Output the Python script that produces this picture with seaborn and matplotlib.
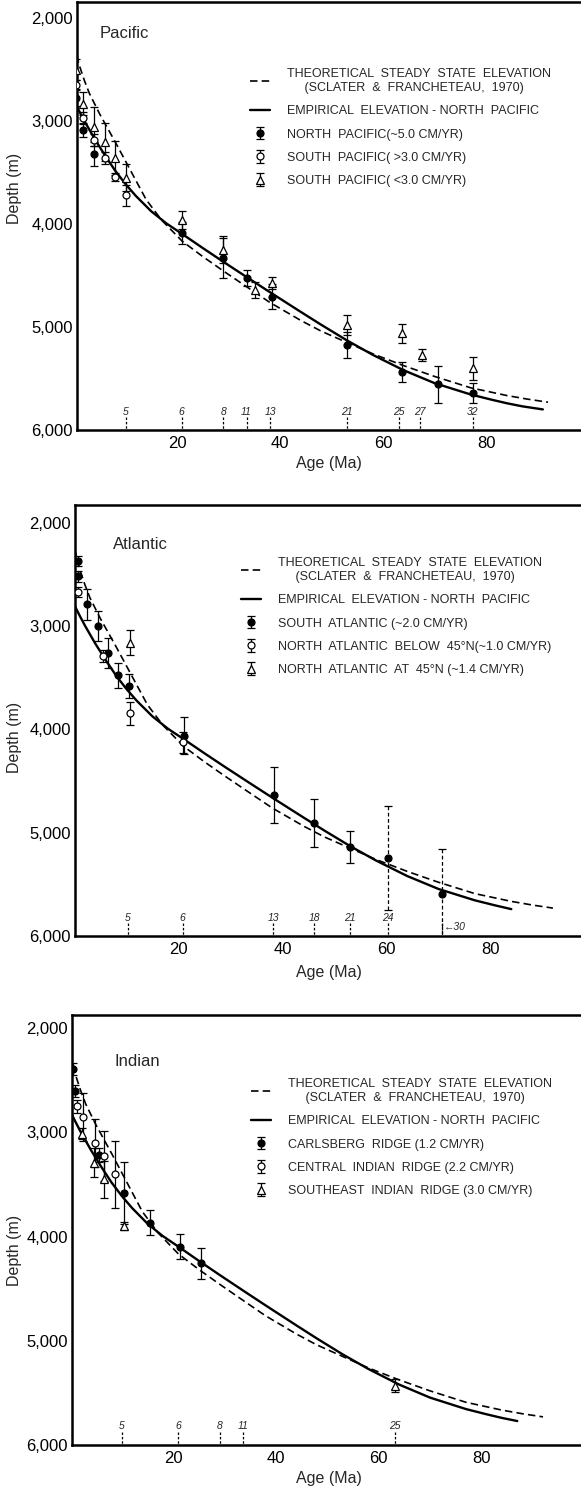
import matplotlib
matplotlib.use("Agg")
import matplotlib.pyplot as plt
from matplotlib.lines import Line2D
from matplotlib.ticker import FuncFormatter
import pandas as pd
import seaborn as sns

W, H = 581, 1488

# model curves shared by all three panels (age Ma, depth m)
theory_age = [0, 1, 2, 3, 5, 8, 11, 14, 17, 21, 25, 29, 34, 38, 44, 48, 53, 58, 64, 70, 77, 84, 88, 92]
theory_depth = [2250, 2450, 2600, 2730, 2930, 3200, 3480, 3760, 3960, 4165, 4315, 4455, 4625, 4760,
                4935, 5040, 5150, 5260, 5375, 5480, 5590, 5665, 5700, 5730]
empirical_age = [0, 1, 2, 4, 6, 8, 10, 12, 15, 18, 21, 25, 29, 34, 38, 44, 48, 53, 58, 64, 70, 77,
                 81, 84, 87, 91]
empirical_depth = [2800, 2900, 2995, 3170, 3330, 3480, 3610, 3725, 3875, 3995, 4095, 4232, 4366, 4530,
                   4660, 4852, 4978, 5130, 5270, 5420, 5545, 5655, 5705, 5740, 5770, 5800]

# Pacific
pac_n_age = [0.5, 1.8, 3.9, 20.9, 28.9, 33.5, 38.4, 53.0, 63.7, 70.6, 77.4]
pac_n_depth = [2770, 3085, 3320, 4087, 4330, 4525, 4705, 5175, 5435, 5555, 5640]
pac_n_err = [80, 70, 115, 110, 195, 80, 120, 130, 100, 180, 100]
pac_sf_age = [0.5, 1.8, 3.9, 6.0, 8.0, 10.1]
pac_sf_depth = [2650, 2970, 3180, 3360, 3540, 3720]
pac_sf_err = [50, 60, 60, 60, 40, 100]
pac_ss_age = [0.5, 1.8, 3.9, 6.0, 8.0, 10.1, 20.9, 28.9, 35.1, 38.4, 53.0, 63.7, 67.5, 77.4]
pac_ss_depth = [2500, 2830, 3055, 3200, 3360, 3550, 3960, 4250, 4640, 4570, 4980, 5060, 5270, 5400]
pac_ss_err = [100, 110, 190, 185, 165, 130, 90, 130, 80, 60, 100, 90, 60, 110]
pac_anom_age = [10.1, 20.9, 29.0, 33.5, 38.1, 53.0, 63.0, 67.2, 77.4]
pac_anom_label = ["5", "6", "8", "11", "13", "21", "25", "27", "32"]

# Atlantic
atl_s_age = [0.6, 0.7, 2.5, 4.5, 6.5, 8.3, 10.4, 21.1, 38.3, 46.0, 52.9]
atl_s_depth = [2370, 2520, 2791, 3000, 3258, 3478, 3580, 4063, 4634, 4905, 5143]
atl_s_err = [50, 50, 150, 145, 145, 120, 113, 180, 270, 235, 155]
atl_s_wide_age = [60.2, 70.6]
atl_s_wide_depth = [5245, 5597]
atl_s_wide_err = [500, 440]
atl_nb_age = [0.7, 5.4, 10.6, 20.8]
atl_nb_depth = [2670, 3290, 3845, 4127]
atl_nb_err = [50, 60, 110, 100]
atl_na_age = [10.6]
atl_na_depth = [3161]
atl_na_err = [120]
atl_anom_age = [10.3, 20.8, 38.2, 46.1, 52.9, 60.2]
atl_anom_label = ["5", "6", "13", "18", "21", "24"]
atl_anom30_age = 70.7

# Indian
ind_c_age = [0.5, 0.9, 5.6, 10.5, 15.5, 21.4, 25.4]
ind_c_depth = [2390, 2600, 3216, 3582, 3865, 4097, 4257]
ind_c_err = [60, 60, 70, 300, 120, 120, 145]
ind_ci_age = [1.2, 2.5, 4.8, 6.5, 8.6]
ind_ci_depth = [2750, 2855, 3097, 3225, 3400]
ind_ci_err = [60, 230, 230, 240, 320]
ind_se_age = [2.2, 4.6, 6.5, 10.5, 63.1]
ind_se_depth = [3010, 3290, 3450, 3900, 5429]
ind_se_err = [50, 140, 180, 40, 60]
ind_anom_age = [10.0, 20.9, 29.1, 33.6, 63.1]
ind_anom_label = ["5", "6", "8", "11", "25"]

THEORY_LABEL = "THEORETICAL  STEADY  STATE  ELEVATION\n     (SCLATER  &  FRANCHETEAU,  1970)"
EMP_LABEL = "EMPIRICAL  ELEVATION - NORTH  PACIFIC"

DASH = (0, (4.5, 2.5))


def add_curves(ax, emp_end, theory_end):
    emp = pd.DataFrame({"age": empirical_age, "depth": empirical_depth})
    theo = pd.DataFrame({"age": theory_age, "depth": theory_depth})
    sns.lineplot(x="age", y="depth", data=theo[theo["age"] <= theory_end], ax=ax,
                 color="black", linewidth=1.2, linestyle=DASH)
    sns.lineplot(x="age", y="depth", data=emp[emp["age"] <= emp_end], ax=ax,
                 color="black", linewidth=1.7)


def points(ax, age, depth, err, kind, dashed=False):
    face = {"filled": "black", "open": "white", "tri": "white"}[kind]
    marker = "^" if kind == "tri" else "o"
    eb = ax.errorbar(age, depth, yerr=err, fmt=marker, mfc=face, mec="black", mew=0.9,
                     ms=5 if marker == "o" else 5.5, ecolor="black", elinewidth=0.9,
                     capsize=2.6, capthick=0.9, zorder=4)
    if dashed:
        eb[2][0].set_linestyle((0, (3, 2)))
    return eb


def anomalies(ax, ages, labels):
    ax.vlines(ages, 5875, 6000, colors="black", linestyles=(0, (2, 1.5)), linewidth=0.9)
    for a, lab in zip(ages, labels):
        ax.text(a, 5822, lab, ha="center", va="center", fontsize=7.5, style="italic")


def make_axes(fig, left, top, bottom, xlim, ylim):
    ax = fig.add_axes([left / W, 1 - bottom / H, (W - left) / W, (bottom - top) / H])
    ax.set_xlim(*xlim)
    ax.set_ylim(*ylim)
    ax.spines["right"].set_visible(False)
    for s in ("left", "bottom", "top"):
        ax.spines[s].set_linewidth(1.8)
    ax.set_xticks([20, 40, 60, 80])
    ax.set_yticks([2000, 3000, 4000, 5000, 6000])
    ax.yaxis.set_major_formatter(FuncFormatter(lambda v, p: f"{v:,.0f}"))
    ax.tick_params(axis="y", direction="in", length=5, width=1.2, labelsize=12, pad=3)
    ax.tick_params(axis="x", direction="in", length=7, width=1.2, labelsize=12, pad=4)
    return ax


def decorate(fig, ax, left, top, bottom, title, title_xy, handles, names, legend_xy, ylab_y, xlab_top):
    fig.text(title_xy[0] / W, 1 - title_xy[1] / H, title, fontsize=12, va="center", ha="left")
    ax.legend(handles, names, loc="upper left",
              bbox_to_anchor=(legend_xy[0] / W, 1 - legend_xy[1] / H),
              bbox_transform=fig.transFigure, frameon=False, borderpad=0,
              handlelength=1.6, handletextpad=1.35, labelspacing=0.9,
              prop={"size": 9})
    ax.set_ylabel("Depth (m)", fontsize=11.5)
    ax.yaxis.set_label_coords((22 - left) / (W - left), (bottom - ylab_y) / (bottom - top))
    ax.set_xlabel("Age (Ma)", fontsize=11.5)
    ax.xaxis.set_label_coords((329 - left) / (W - left), -(xlab_top - bottom) / (bottom - top))


def main():
    sns.set_theme(style="white")
    plt.rcParams["font.family"] = ["Liberation Sans", "DejaVu Sans"]
    plt.rcParams["axes.edgecolor"] = "black"
    plt.rcParams["xtick.color"] = "black"
    plt.rcParams["ytick.color"] = "black"

    fig = plt.figure(figsize=(W / 100, H / 100), dpi=100)

    h_theory = Line2D([], [], color="black", lw=1.2, ls=DASH)
    h_emp = Line2D([], [], color="black", lw=1.7)

    # ---- Pacific
    ax = make_axes(fig, 77, 2, 430, (0.6, 98.4), (6000, 1842))
    add_curves(ax, 91, 92)
    e1 = points(ax, pac_n_age, pac_n_depth, pac_n_err, "filled")
    e2 = points(ax, pac_sf_age, pac_sf_depth, pac_sf_err, "open")
    e3 = points(ax, pac_ss_age, pac_ss_depth, pac_ss_err, "tri")
    anomalies(ax, pac_anom_age, pac_anom_label)
    decorate(fig, ax, 77, 2, 430, "Pacific", (100, 33), [h_theory, h_emp, e1, e2, e3],
             [THEORY_LABEL, EMP_LABEL, "NORTH  PACIFIC(~5.0 CM/YR)",
              "SOUTH  PACIFIC( >3.0 CM/YR)", "SOUTH  PACIFIC( <3.0 CM/YR)"], (244, 62), 188, 456)

    # ---- Atlantic
    ax = make_axes(fig, 75, 505, 936, (0.1, 97.4), (6000, 1829))
    add_curves(ax, 84, 92)
    e1 = points(ax, atl_s_age, atl_s_depth, atl_s_err, "filled")
    points(ax, atl_s_wide_age, atl_s_wide_depth, atl_s_wide_err, "filled", dashed=True)
    e2 = points(ax, atl_nb_age, atl_nb_depth, atl_nb_err, "open")
    e3 = points(ax, atl_na_age, atl_na_depth, atl_na_err, "tri")
    anomalies(ax, atl_anom_age, atl_anom_label)
    ax.vlines([atl_anom30_age], 5875, 6000, colors="black", linestyles=(0, (2, 1.5)), linewidth=0.9)
    ax.text(atl_anom30_age + 0.4, 5910, "\u219030", ha="left", va="center", fontsize=7.5, style="italic")
    decorate(fig, ax, 75, 505, 936, "Atlantic", (113, 545), [h_theory, h_emp, e1, e2, e3],
             [THEORY_LABEL, EMP_LABEL, "SOUTH  ATLANTIC (~2.0 CM/YR)",
              "NORTH  ATLANTIC  BELOW  45\u00b0N(~1.0 CM/YR)",
              "NORTH  ATLANTIC  AT  45\u00b0N (~1.4 CM/YR)"], (235, 551), 737, 965)

    # ---- Indian
    ax = make_axes(fig, 72, 1015, 1445, (0.3, 99.4), (6000, 1872))
    add_curves(ax, 87, 92)
    e1 = points(ax, ind_c_age, ind_c_depth, ind_c_err, "filled")
    e2 = points(ax, ind_ci_age, ind_ci_depth, ind_ci_err, "open")
    e3 = points(ax, ind_se_age, ind_se_depth, ind_se_err, "tri")
    anomalies(ax, ind_anom_age, ind_anom_label)
    decorate(fig, ax, 72, 1015, 1445, "Indian", (115, 1062), [h_theory, h_emp, e1, e2, e3],
             [THEORY_LABEL, EMP_LABEL, "CARLSBERG  RIDGE (1.2 CM/YR)",
              "CENTRAL  INDIAN  RIDGE (2.2 CM/YR)", "SOUTHEAST  INDIAN  RIDGE (3.0 CM/YR)"],
             (245, 1072), 1250, 1471)

    fig.savefig("out.png", dpi=100, facecolor="white")


if __name__ == "__main__":
    main()
